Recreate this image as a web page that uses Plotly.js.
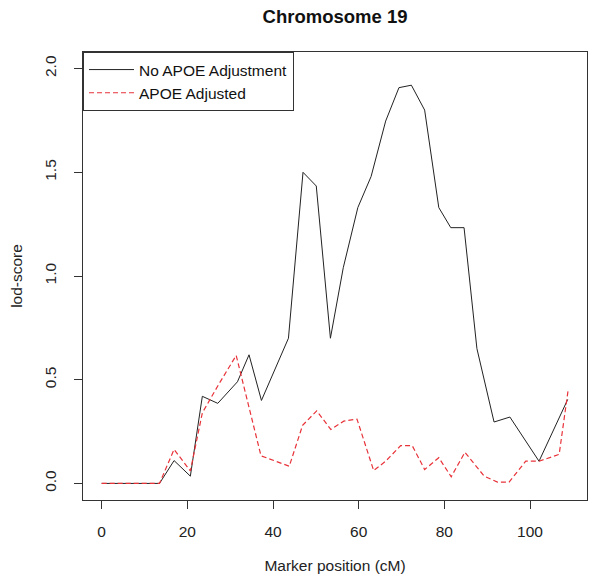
<!DOCTYPE html>
<html>
<head>
<meta charset="utf-8">
<script src="https://cdn.plot.ly/plotly-3.0.1.min.js"></script>
<style>
  body { margin: 0; background: #fff; }
  #plotArea { width: 602px; height: 582px; }
</style>
</head>
<body>
<div id="plotArea"></div>
<script>
// marker positions (cM) and lod scores
var posNoAdj = [0, 13.5, 16.9, 20.7, 23.5, 27.1, 31.7, 34.4, 37.3, 43.6, 47.0, 50.1, 53.4, 56.4,
    59.8, 62.9, 66.3, 69.4, 72.3, 75.4, 78.7, 81.5, 84.6, 87.6, 91.6, 95.3, 102.1, 108.8];
var lodNoAdj = [0, 0, 0.11, 0.035, 0.42, 0.386, 0.49, 0.62, 0.40, 0.70, 1.50, 1.434, 0.70, 1.04,
    1.33, 1.48, 1.747, 1.908, 1.92, 1.80, 1.33, 1.233, 1.233, 0.65, 0.296, 0.32, 0.107, 0.405];

var posAdj = [0, 13.5, 16.9, 20.7, 23.5, 27.1, 31.4, 37.2, 43.8, 46.9, 50.2, 53.5, 56.5, 59.6,
    63.5, 66.3, 69.8, 72.5, 75.4, 78.7, 81.6, 84.8, 89.3, 92.4, 95.1, 99.0, 102.1, 106.8, 108.9];
var lodAdj = [0, 0, 0.164, 0.06, 0.34, 0.47, 0.617, 0.133, 0.083, 0.28, 0.35, 0.26, 0.30, 0.31,
    0.062, 0.107, 0.182, 0.182, 0.067, 0.124, 0.032, 0.15, 0.035, 0.006, 0.006, 0.107, 0.107, 0.14, 0.45];

var xTicks = [0, 20, 40, 60, 80, 100];
var yTicks = [0, 0.5, 1, 1.5, 2];

var font = "Liberation Sans, Arial, sans-serif";

var trace1 = {
    x: posNoAdj,
    y: lodNoAdj,
    mode: "lines",
    type: "scatter",
    name: "No APOE Adjustment",
    line: {color: "#222", width: 1}
};
var trace2 = {
    x: posAdj,
    y: lodAdj,
    mode: "lines",
    type: "scatter",
    name: "APOE Adjusted",
    line: {color: "#e8333a", width: 1.2, dash: "5px,3px"}
};

var data = [trace1, trace2];
var layout = {
    width: 602,
    height: 582,
    margin: {l: 83, r: 15, t: 52, b: 82},
    paper_bgcolor: "#fff",
    plot_bgcolor: "#fff",
    font: {family: font, size: 15.5, color: "#222"},
    showlegend: true,
    title: {
        text: "<b>Chromosome 19</b>",
        font: {family: font, size: 18.5, color: "#111"},
        xref: "paper", x: 0.5, xanchor: "center",
        yref: "container", y: 0.972, yanchor: "middle"
    },
    xaxis: {
        range: [-4.36, 113.3],
        tickvals: xTicks,
        ticktext: xTicks.map(String),
        tickfont: {family: font, size: 15.5},
        ticks: "outside", ticklen: 8, tickcolor: "#333",
        ticklabelstandoff: 9,
        showline: true, mirror: true, linecolor: "#333", linewidth: 1,
        showgrid: false, zeroline: false,
        title: {text: "Marker position (cM)", font: {family: font, size: 15.5}, standoff: 21}
    },
    yaxis: {
        range: [-0.08, 2.08],
        tickvals: yTicks,
        ticktext: ["0.0", "0.5", "1.0", "1.5", "2.0"],
        tickfont: {family: font, size: 15.5},
        tickangle: -90,
        ticks: "outside", ticklen: 8, tickcolor: "#333",
        ticklabelstandoff: 12,
        showline: true, mirror: true, linecolor: "#333", linewidth: 1,
        showgrid: false, zeroline: false,
        title: {text: "lod-score", font: {family: font, size: 15.5}, standoff: 15}
    },
    legend: {
        x: 0, y: 1, xanchor: "left", yanchor: "top",
        bgcolor: "#fff", bordercolor: "#333", borderwidth: 1,
        font: {family: font, size: 15.5, color: "#111"},
        itemwidth: 45,
        tracegroupgap: 0
    }
};

Plotly.newPlot("plotArea", data, layout, {displayModeBar: false});
</script>
</body>
</html>
